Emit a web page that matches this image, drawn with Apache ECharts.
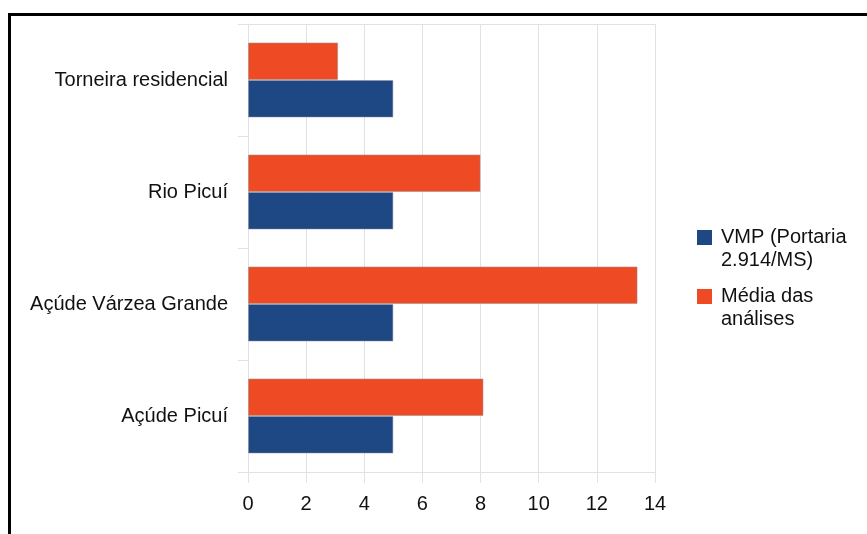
<!DOCTYPE html>
<html>
<head>
<meta charset="utf-8">
<script src="https://cdn.jsdelivr.net/npm/echarts@6/dist/echarts.min.js"></script>
<style>
  html, body { margin: 0; padding: 0; background: #fff; }
  #chart { position: absolute; left: 0; top: 0; width: 867px; height: 534px; }
  .frame {
    position: absolute; left: 8px; top: 13px; width: 900px; height: 600px;
    border-top: 3px solid #000; border-left: 3px solid #000;
    pointer-events: none;
  }
</style>
</head>
<body>
<div id="chart"></div>
<div class="frame"></div>
<script>
// categories top to bottom
const categories = ['Torneira residencial', 'Rio Picuí', 'Açúde Várzea Grande', 'Açúde Picuí']
const vmpName = 'VMP (Portaria\n2.914/MS)'
const mediaName = 'Média das\nanálises'
const vmpValues = [5, 5, 5, 5]
const mediaValues = [3.1, 8, 13.4, 8.1]
const xTicks = [0, 14, 2] // min, max, step

const fontFamily = '"Liberation Sans", Arial, sans-serif'
const gridColor = '#e2e2e2'
// square sitting at the top-left of a bigger legend item, so it lines up with the first text line
const legendIcon = 'path://M0,0H15V15H0Z M19,38H19.01V38.01H19Z'

const chart = echarts.init(document.getElementById('chart'))

chart.setOption({
  backgroundColor: '#fff',
  animation: false,
  textStyle: { fontFamily: fontFamily },
  grid: { left: 248, top: 24, width: 407, height: 448, containLabel: false },
  legend: {
    orient: 'vertical',
    left: 697,
    top: 226,
    padding: 0,
    itemWidth: 19,
    itemHeight: 38,
    itemGap: 13,
    icon: legendIcon,
    itemStyle: { borderWidth: 0 },
    data: [vmpName, mediaName],
    textStyle: {
      fontSize: 20,
      color: '#111',
      lineHeight: 23
    }
  },
  xAxis: [{
    type: 'value',
    min: xTicks[0],
    max: xTicks[1],
    interval: xTicks[2],
    axisLine: { show: true, lineStyle: { color: gridColor } },
    axisTick: { show: true, length: 11, lineStyle: { color: gridColor } },
    splitLine: { show: true, lineStyle: { color: gridColor } },
    axisLabel: { fontSize: 20, color: '#111', margin: 22 }
  }, {
    // top edge of the plot
    type: 'value',
    position: 'top',
    min: xTicks[0],
    max: xTicks[1],
    interval: xTicks[2],
    axisLine: { show: true, lineStyle: { color: gridColor } },
    axisTick: { show: false },
    splitLine: { show: false },
    axisLabel: { show: false }
  }],
  yAxis: {
    type: 'category',
    inverse: true,
    data: categories,
    axisLine: { show: true, lineStyle: { color: gridColor } },
    axisTick: { show: true, length: 10, lineStyle: { color: gridColor } },
    axisLabel: { fontSize: 20, color: '#111', margin: 20 }
  },
  series: [{
    name: mediaName,
    type: 'bar',
    data: mediaValues,
    barGap: '0%',
    barCategoryGap: '33%',
    itemStyle: { color: '#ee4a24', borderColor: 'rgba(160,140,140,0.5)', borderWidth: 1 }
  }, {
    name: vmpName,
    type: 'bar',
    data: vmpValues,
    barGap: '0%',
    barCategoryGap: '33%',
    itemStyle: { color: '#1d4884', borderColor: 'rgba(140,140,160,0.5)', borderWidth: 1 }
  }]
})
</script>
</body>
</html>
